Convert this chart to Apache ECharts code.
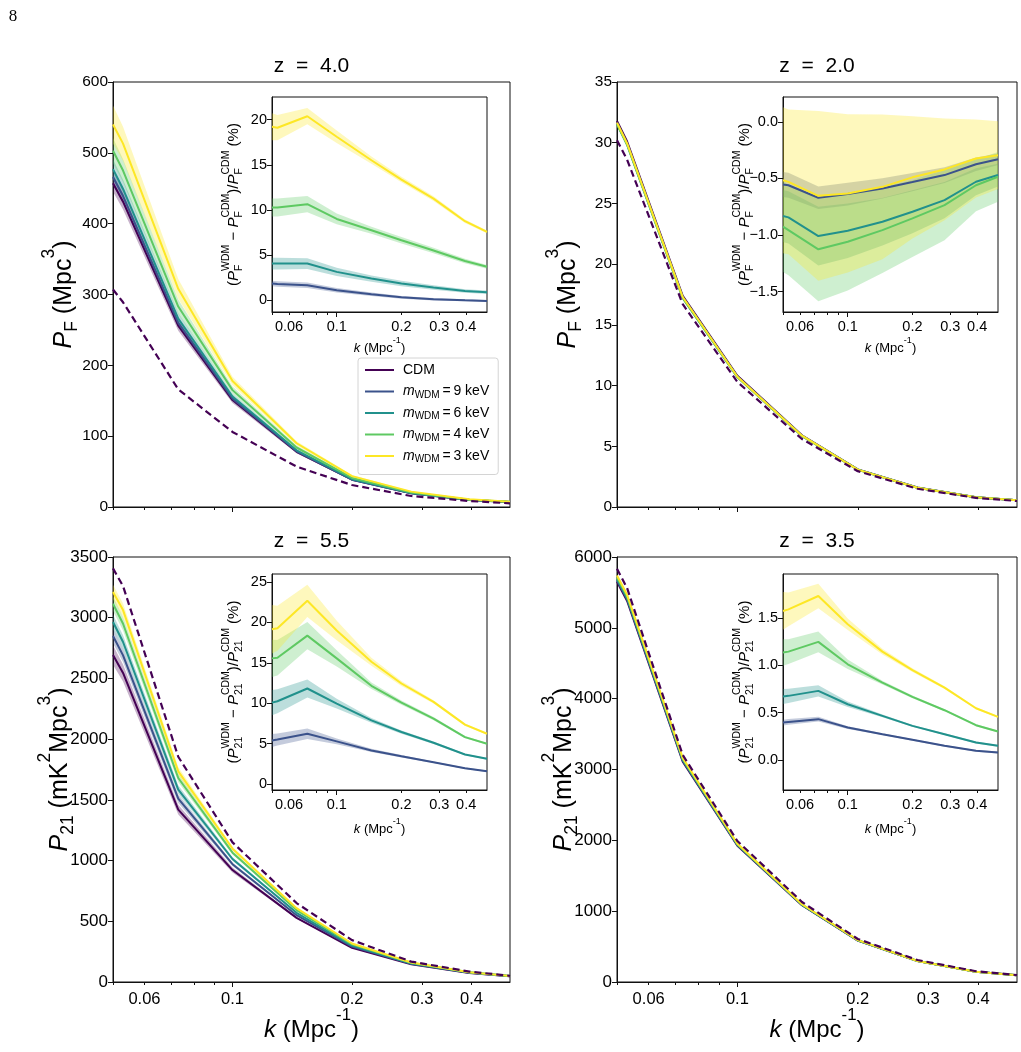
<!DOCTYPE html>
<html>
<head>
<meta charset="utf-8">
<script src="https://cdn.jsdelivr.net/npm/echarts@6/dist/echarts.min.js"></script>
<style>
  html, body { margin: 0; padding: 0; background: #fff; }
  #chart { width: 1021px; height: 1052px; }
</style>
</head>
<body>
<div id="chart"></div>
<script>
// k bins (Mpc^-1) shared by every curve
const kBins = [0.05, 0.053, 0.073, 0.1, 0.145, 0.2, 0.282, 0.395, 0.5];
const kLabels = [0.06, 0.1, 0.2, 0.3, 0.4];
const kMajor = [0.1];
const kMinor = [0.05, 0.06, 0.07, 0.08, 0.09, 0.2, 0.3, 0.4];
const legendNames = ['CDM', '9 keV', '6 keV', '4 keV', '3 keV'];
const colors = ['#440154', '#3b528b', '#21918c', '#5ec962', '#fde725'];
const redshifts = ['4.0', '2.0', '5.5', '3.5'];

// z = 4.0, flux power P_F (Mpc^3): CDM, 9, 6, 4, 3 keV
const pF40 = [
  [457, 431, 256, 151, 78, 38.5, 19.5, 10, 7],
  [466, 439, 260, 153, 78.6, 38.6, 19.5, 10, 7],
  [477, 449, 266, 156, 80, 39.2, 19.8, 10.1, 7.1],
  [503, 475, 283, 165, 84, 41, 20.6, 10.4, 7.3],
  [540, 513, 308, 178, 90, 43.6, 21.7, 10.9, 7.5]
];
const pF40Err = [
  [12, 11, 7, 4, 2, 1, 0.5, 0.3, 0.2],
  [12, 11, 7, 4, 2, 1, 0.5, 0.3, 0.2],
  [14, 13, 8, 4, 2, 1, 0.5, 0.3, 0.2],
  [18, 16, 10, 5, 2.5, 1.2, 0.6, 0.3, 0.2],
  [27, 24, 14, 6, 3, 1.5, 0.7, 0.4, 0.3]
];
const pF40Dash = [307, 289, 166, 106, 57, 31, 15.5, 8.5, 5.2];
// z = 4.0 relative difference (%): 9, 6, 4, 3 keV
const dF40 = [
  [1.85, 1.8, 1.66, 1.1, 0.66, 0.33, 0.11, 0.0, -0.07],
  [4.06, 4.06, 4.06, 3.14, 2.4, 1.85, 1.4, 1.03, 0.89],
  [10.26, 10.26, 10.63, 9.0, 7.75, 6.64, 5.5, 4.35, 3.7],
  [19.2, 19.1, 20.37, 18.1, 15.5, 13.36, 11.25, 8.75, 7.56]
];
const dF40Err = [
  [0.3, 0.3, 0.3, 0.25, 0.2, 0.15, 0.15, 0.1, 0.1],
  [0.65, 0.65, 0.6, 0.45, 0.35, 0.3, 0.25, 0.2, 0.2],
  [1.0, 1.0, 0.9, 0.6, 0.4, 0.35, 0.3, 0.25, 0.2],
  [1.5, 1.4, 0.9, 0.7, 0.4, 0.3, 0.25, 0.2, 0.15]
];

// z = 2.0, flux power P_F (Mpc^3)
const pF20 = [
  [31.8, 30.1, 17.4, 10.8, 5.9, 3.1, 1.6, 0.8, 0.55],
  [31.62, 29.93, 17.28, 10.73, 5.87, 3.08, 1.59, 0.8, 0.55],
  [31.54, 29.85, 17.22, 10.7, 5.85, 3.08, 1.59, 0.8, 0.55],
  [31.51, 29.81, 17.2, 10.69, 5.84, 3.07, 1.59, 0.8, 0.55],
  [31.64, 29.94, 17.29, 10.73, 5.87, 3.08, 1.59, 0.8, 0.55]
];
const pF20Dash = [30.2, 28.6, 16.7, 10.3, 5.6, 2.95, 1.5, 0.75, 0.5];
const dF20 = [
  [-0.553, -0.56, -0.67, -0.638, -0.588, -0.532, -0.47, -0.374, -0.33],
  [-0.832, -0.844, -1.009, -0.962, -0.882, -0.794, -0.691, -0.529, -0.47],
  [-0.926, -0.956, -1.126, -1.059, -0.956, -0.853, -0.735, -0.56, -0.485],
  [-0.515, -0.53, -0.653, -0.632, -0.574, -0.49, -0.42, -0.324, -0.294]
];
const dF20Err = [
  [0.11, 0.11, 0.1, 0.1, 0.09, 0.08, 0.07, 0.06, 0.05],
  [0.23, 0.23, 0.26, 0.24, 0.21, 0.19, 0.16, 0.12, 0.1],
  [0.4, 0.4, 0.46, 0.43, 0.38, 0.34, 0.31, 0.23, 0.22],
  [0.645, 0.64, 0.75, 0.7, 0.64, 0.54, 0.45, 0.345, 0.3]
];

// z = 5.5, 21 cm power P_21 (mK^2 Mpc^3)
const p2155 = [
  [2693, 2545, 1420, 922, 528, 282, 146, 75, 47],
  [2850, 2690, 1510, 970, 550, 292, 150, 77, 48],
  [2965, 2800, 1585, 1013, 570, 300, 153, 78, 48.5],
  [3115, 2950, 1680, 1065, 592, 310, 158, 79.5, 49.5],
  [3212, 3063, 1735, 1098, 608, 317, 161, 80.5, 50]
];
const p2155Err = [
  [80, 70, 40, 20, 8, 4, 2, 1, 1],
  [60, 55, 35, 15, 6, 3, 2, 1, 1],
  [60, 55, 35, 15, 6, 3, 2, 1, 1],
  [60, 55, 35, 15, 6, 3, 2, 1, 1],
  [60, 55, 35, 15, 6, 3, 2, 1, 1]
];
const p2155Dash = [3406, 3260, 1855, 1150, 650, 345, 168, 86, 51];
const d2155 = [
  [5.39, 5.51, 6.22, 5.27, 4.15, 3.44, 2.69, 1.95, 1.58],
  [10.07, 10.24, 11.82, 9.95, 7.88, 6.43, 5.1, 3.65, 3.11],
  [15.55, 15.63, 18.37, 15.55, 12.15, 10.07, 8.08, 5.8, 4.98],
  [19.15, 19.28, 22.68, 19.0, 15.13, 12.44, 10.16, 7.34, 6.22]
];
const d2155Err = [
  [0.8, 0.75, 0.65, 0.35, 0.2, 0.15, 0.1, 0.1, 0.1],
  [1.55, 1.5, 1.1, 0.6, 0.3, 0.2, 0.15, 0.1, 0.1],
  [2.3, 2.2, 1.7, 1.0, 0.4, 0.25, 0.2, 0.15, 0.1],
  [3.0, 2.8, 2.0, 1.2, 0.5, 0.3, 0.2, 0.15, 0.1]
];

// z = 3.5, 21 cm power P_21 (mK^2 Mpc^3)
const p2135 = [
  [5650, 5380, 3110, 1925, 1085, 585, 295, 145, 95],
  [5672, 5402, 3123, 1932, 1088, 586, 295.4, 145.1, 95.1],
  [5688, 5417, 3133, 1936, 1090, 587, 296, 145.3, 95.1],
  [5714, 5442, 3149, 1944, 1094, 589, 296.6, 145.5, 95.3],
  [5739, 5466, 3164, 1953, 1098, 591, 297.3, 145.8, 95.4]
];
const p2135Dash = [5835, 5560, 3205, 1990, 1130, 607, 310, 152, 98];
const d2135 = [
  [0.395, 0.402, 0.431, 0.342, 0.272, 0.212, 0.148, 0.095, 0.078],
  [0.671, 0.678, 0.731, 0.589, 0.466, 0.36, 0.272, 0.184, 0.148],
  [1.137, 1.147, 1.25, 1.013, 0.819, 0.667, 0.526, 0.367, 0.3],
  [1.578, 1.595, 1.737, 1.437, 1.147, 0.95, 0.766, 0.547, 0.455]
];
const d2135Err = [
  [0.03, 0.03, 0.025, 0.015, 0.01, 0.01, 0.01, 0.01, 0.01],
  [0.08, 0.075, 0.06, 0.03, 0.015, 0.01, 0.01, 0.01, 0.01],
  [0.14, 0.13, 0.11, 0.05, 0.02, 0.015, 0.01, 0.01, 0.01],
  [0.2, 0.18, 0.13, 0.06, 0.03, 0.02, 0.015, 0.01, 0.01]
];

const FONT = '"Liberation Sans", Arial, sans-serif';

// layout of the four panels and their insets
const panels = [
  { box: [113, 82, 397, 425], inset: [272, 97, 215, 215], yMax: 600, yStep: 100,
    lines: pF40, err: pF40Err, dash: pF40Dash, diff: dF40, diffErr: dF40Err,
    dRange: [-1.3, 22.5], dTicks: [0, 5, 10, 15, 20], dDec: 0, tick: 15.5, bottom: false, q: 'F' },
  { box: [617, 82, 400, 425], inset: [783, 97, 215, 215], yMax: 35, yStep: 5,
    lines: pF20, err: null, dash: pF20Dash, diff: dF20, diffErr: dF20Err,
    dRange: [-1.68, 0.22], dTicks: [-1.5, -1.0, -0.5, 0.0], dDec: 1, tick: 15.5, bottom: false, q: 'F' },
  { box: [113, 557, 397, 425], inset: [272, 574, 215, 216], yMax: 3500, yStep: 500,
    lines: p2155, err: p2155Err, dash: p2155Dash, diff: d2155, diffErr: d2155Err,
    dRange: [-0.75, 26], dTicks: [0, 5, 10, 15, 20, 25], dDec: 0, tick: 17, bottom: true, q: '21' },
  { box: [617, 557, 400, 425], inset: [783, 574, 215, 216], yMax: 6000, yStep: 1000,
    lines: p2135, err: null, dash: p2135Dash, diff: d2135, diffErr: d2135Err,
    dRange: [-0.32, 1.97], dTicks: [0.0, 0.5, 1.0, 1.5], dDec: 1, tick: 17, bottom: true, q: '21' }
];

const measureCtx = document.createElement('canvas').getContext('2d');
function textWidth(s, size, italic) {
  measureCtx.font = (italic ? 'italic ' : '') + size + 'px ' + FONT;
  return measureCtx.measureText(s).width;
}

// small text layout with sub/superscripts, centred on (x, y)
function mathLabel(tokens, size, x, y, rotation) {
  const small = size * 0.7;
  const kids = [];
  let cx = 0;
  const put = (s, px, py, fs, it) => kids.push({
    type: 'text', x: px, y: py, silent: true,
    style: { text: s, fontSize: fs, fontFamily: FONT, fontStyle: it ? 'italic' : 'normal',
             fill: '#000', align: 'left', verticalAlign: 'middle' }
  });
  tokens.forEach(tk => {
    if (tk.t) { put(tk.t, cx, 0, size, tk.it); cx += textWidth(tk.t, size, tk.it); }
    let w = 0;
    if (tk.sub) { put(tk.sub, cx, size * 0.33, small); w = textWidth(tk.sub, small); }
    if (tk.sup) { put(tk.sup, cx, -size * (tk.hi || 0.55), small); w = Math.max(w, textWidth(tk.sup, small)); }
    cx += w;
  });
  kids.forEach(c => { c.x -= cx / 2; });
  return { type: 'group', x, y, rotation: rotation || 0, children: kids };
}

const pairs = vals => vals.map((v, i) => [kBins[i], v]);
const kFormat = v => String(Number((+v).toPrecision(3)));

const grids = [], xAxes = [], yAxes = [], series = [], graphics = [];

function addAxes(rect, opts) {
  const gi = grids.length;
  grids.push({ left: rect[0], top: rect[1], width: rect[2], height: rect[3], show: true,
               borderColor: '#111', borderWidth: 1,
               backgroundColor: opts.bg || 'transparent', containLabel: false });
  // x axis carrying the data, the labels and the long tick at 0.1
  xAxes.push({
    type: 'log', logBase: 10, gridIndex: gi, min: 0.05, max: 0.5, position: 'bottom',
    axisLine: { show: true, onZero: false, lineStyle: { color: '#111', width: 1 } },
    axisTick: { show: true, customValues: kMajor, length: 5, lineStyle: { color: '#111' } },
    axisLabel: { show: opts.xLabels, customValues: kLabels, formatter: kFormat,
                 fontSize: opts.xFont, fontFamily: FONT, color: '#000', margin: opts.xMargin },
    splitLine: { show: false }, minorTick: { show: false }
  });
  const y = {
    type: 'value', gridIndex: gi, min: opts.yMin, max: opts.yMax,
    axisLine: { show: true, onZero: false, lineStyle: { color: '#111', width: 1 } },
    axisTick: { show: true, length: 5, lineStyle: { color: '#111' } },
    axisLabel: { fontSize: opts.yFont, fontFamily: FONT, color: '#000', margin: 5,
                 formatter: v => String(v) },
    splitLine: { show: false }
  };
  if (opts.yStep) y.interval = opts.yStep;
  if (opts.yTicks) {
    y.axisTick.customValues = opts.yTicks;
    y.axisLabel.customValues = opts.yTicks;
    y.axisLabel.formatter = v => (+v).toFixed(opts.yDec).replace('-', '\u2212');
  }
  yAxes.push(y);
  return gi;
}

// second, label-less x axis on each grid for the short minor ticks
function addMinorAxes(count) {
  for (let gi = 0; gi < count; gi++) {
    xAxes.push({
      type: 'log', logBase: 10, gridIndex: gi, min: 0.05, max: 0.5, position: 'bottom', offset: 0,
      axisLine: { show: false, onZero: false },
      axisTick: { show: true, customValues: kMinor, length: 3, lineStyle: { color: '#111' } },
      axisLabel: { show: false }, splitLine: { show: false }
    });
  }
}

// shaded band between mid - hw and mid + hw, drawn as one polygon through the axes
function addBand(gi, mid, hw, color) {
  const n = kBins.length;
  series.push({
    type: 'custom', xAxisIndex: gi, yAxisIndex: gi, silent: true, z: 1,
    data: kBins.map((k, i) => [k, mid[i] - hw[i], mid[i] + hw[i]]),
    encode: { x: 0, y: [1, 2] },
    renderItem: (params, api) => {
      if (params.dataIndexInside !== 0) return null;
      const lower = [], upper = [];
      for (let i = 0; i < n; i++) {
        lower.push(api.coord([api.value(0, i), api.value(1, i)]));
        upper.push(api.coord([api.value(0, i), api.value(2, i)]));
      }
      const cs = params.coordSys;
      return {
        type: 'polygon',
        shape: { points: lower.concat(upper.reverse()) },
        style: { fill: color, opacity: 0.3 },
        clipPath: { type: 'rect', shape: { x: cs.x, y: cs.y, width: cs.width, height: cs.height } }
      };
    }
  });
}

panels.forEach((p, pi) => {
  const gi = addAxes(p.box, { xLabels: p.bottom, xFont: 16.5, xMargin: 9,
                              yMin: 0, yMax: p.yMax, yStep: p.yStep, yFont: p.tick });
  // bands under the curves
  if (p.err) p.lines.forEach((vals, m) => addBand(gi, vals, p.err[m], colors[m]));
  p.lines.forEach((vals, m) => series.push({
    type: 'line', name: legendNames[m], xAxisIndex: gi, yAxisIndex: gi,
    data: pairs(vals), symbol: 'none', z: 2,
    lineStyle: { color: colors[m], width: 2 }, itemStyle: { color: colors[m] }
  }));
  series.push({
    type: 'line', name: 'dashed', xAxisIndex: gi, yAxisIndex: gi,
    data: pairs(p.dash), symbol: 'none', z: 3,
    lineStyle: { color: colors[0], width: 2.2, type: [7, 4] }, itemStyle: { color: colors[0] }
  });

  // inset with the relative differences
  const ii = addAxes(p.inset, { xLabels: true, xFont: 14.5, xMargin: 7, bg: '#fff',
                                yMin: p.dRange[0], yMax: p.dRange[1], yTicks: p.dTicks,
                                yDec: p.dDec, yFont: 14.5 });
  p.diff.forEach((vals, m) => addBand(ii, vals, p.diffErr[m], colors[m + 1]));
  p.diff.forEach((vals, m) => series.push({
    type: 'line', xAxisIndex: ii, yAxisIndex: ii, data: pairs(vals), symbol: 'none', z: 2,
    lineStyle: { color: colors[m + 1], width: 2 }, itemStyle: { color: colors[m + 1] }
  }));

  // texts
  const [bx, by, bw, bh] = p.box;
  const [ix, iy, iw, ih] = p.inset;
  graphics.push({
    type: 'text', x: bx + bw / 2, y: by - 16, silent: true,
    style: { text: 'z  =  ' + redshifts[pi], fontSize: 21, fontFamily: FONT, fill: '#000',
             align: 'center', verticalAlign: 'middle' }
  });
  const yTokens = p.q === 'F'
    ? [{ t: 'P', it: true, sub: 'F' }, { t: ' (Mpc', sup: '3', hi: 0.6 }, { t: ')' }]
    : [{ t: 'P', it: true, sub: '21' }, { t: ' (mK', sup: '2', hi: 0.6 }, { t: 'Mpc', sup: '3', hi: 0.6 }, { t: ')' }];
  const yLabX = p.q === 'F' ? bx - 49 : bx - 53;
  graphics.push(mathLabel(yTokens, 25, yLabX, by + bh / 2, Math.PI / 2));
  graphics.push(mathLabel([{ t: 'k', it: true }, { t: ' (Mpc', sup: '-1', hi: 0.6 }, { t: ')' }],
                          13, ix + iw / 2, iy + ih + (p.bottom ? 39 : 36), 0));
  graphics.push(mathLabel([
    { t: '(' }, { t: 'P', it: true, sub: p.q, sup: 'WDM' }, { t: ' \u2212 ' },
    { t: 'P', it: true, sub: p.q, sup: 'CDM' }, { t: ')/' },
    { t: 'P', it: true, sub: p.q, sup: 'CDM' }, { t: ' (%)' }
  ], 15, ix - 38, iy + ih / 2, Math.PI / 2));
  if (p.bottom) {
    graphics.push(mathLabel([{ t: 'k', it: true }, { t: ' (Mpc', sup: '-1', hi: 0.6 }, { t: ')' }],
                            24, bx + bw / 2, by + bh + 48, 0));
  }
});
addMinorAxes(grids.length);

graphics.push({
  type: 'text', x: 13, y: 17, silent: true,
  style: { text: '8', fontSize: 17, fontFamily: '"Liberation Serif", serif', fill: '#000',
           align: 'center', verticalAlign: 'middle' }
});

const chart = echarts.init(document.getElementById('chart'));
chart.setOption({
  animation: false,
  backgroundColor: '#fff',
  grid: grids,
  xAxis: xAxes,
  yAxis: yAxes,
  series: series,
  graphic: graphics,
  legend: {
    data: legendNames, orient: 'vertical', left: 358, top: 358,
    icon: 'rect', itemWidth: 29, itemHeight: 2, itemGap: 6, selectedMode: false,
    padding: [5, 9, 10, 7], backgroundColor: '#fff', borderColor: '#d4d4d4',
    borderWidth: 1, borderRadius: 3,
    formatter: name => name === 'CDM'
      ? '{c|CDM}{s| }'
      : '{i|m}{s|WDM}{n|\u2009=\u2009' + name + '}',
    textStyle: {
      fontSize: 14, fontFamily: FONT, color: '#000',
      rich: {
        c: { fontSize: 14, fontFamily: FONT, color: '#000', padding: [0, 0, 0, 4] },
        n: { fontSize: 14, fontFamily: FONT, color: '#000' },
        i: { fontSize: 14, fontFamily: FONT, fontStyle: 'italic', color: '#000', padding: [0, 0, 0, 4] },
        s: { fontSize: 10, fontFamily: FONT, color: '#000', padding: [7, 0, 0, 0] }
      }
    }
  }
});
</script>
</body>
</html>
